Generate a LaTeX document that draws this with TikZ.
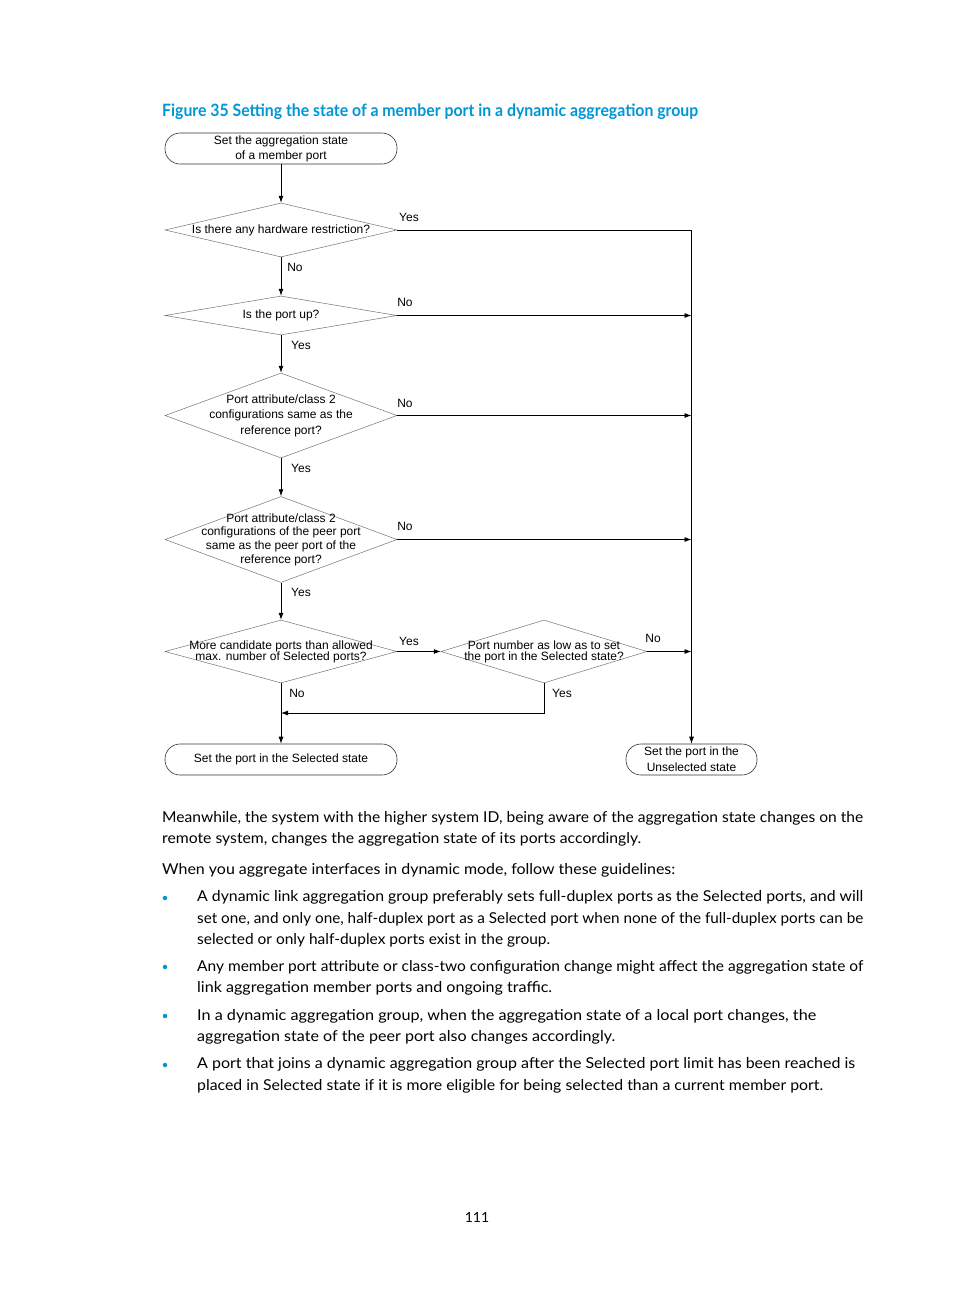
\documentclass[tikz,border=0pt]{standalone}
\usepackage{fontspec}
\usepackage{graphicx}
\setmainfont{Liberation Sans}
\newfontfamily\bodyfont{Lato}
\usetikzlibrary{shapes.geometric,arrows.meta,calc}
\definecolor{hpblue}{RGB}{0,150,214}
\newcommand{\fcf}[1]{\fontsize{12}{#1}\selectfont\setlength{\lineskiplimit}{-20pt}\setlength{\lineskip}{0pt}\relax}
\begin{document}
\begin{tikzpicture}[x=1pt,y=-1pt,
  fc/.style={font=\fcf{15}},
  term/.style={draw=black!80,line width=0.6pt,rounded corners=15pt,minimum height=31pt,inner sep=0pt,align=center,fc},
  dec/.style={draw=black!55,line width=0.5pt,diamond,inner sep=0pt,minimum width=232pt},
  dtext/.style n args={2}{label={[font=\fcf{#1},align=center,inner sep=0pt]center:{#2}}},
  conn/.style={draw=black,line width=0.8pt},
  arr/.style={conn,-{Latex[length=7pt,width=5pt]}},
  lab/.style={fc,inner sep=0pt},
  body/.style={anchor=base west,inner sep=0pt,font=\bodyfont\fontsize{15}{18}\selectfont},
  bul/.style={circle,fill=hpblue,inner sep=0pt,minimum size=4.5pt}
]
\useasboundingbox (0,0) rectangle (954,1296);
\fill[white] (0,0) rectangle (954,1296);

% title
\node[anchor=base west,inner sep=0pt,text=hpblue] (title) at (162,116)
  {\resizebox{536pt}{\height}{\bodyfont\bfseries\fontsize{17}{20}\selectfont Figure 35 Setting the state of a member port in a dynamic aggregation group}};

% flowchart nodes
\node[term,minimum width=232pt] (start) at (281,148.5) {Set the aggregation state\\of a member port};
\node[dec,minimum height=54pt,dtext={15}{Is there any hardware restriction?}] (d1) at (281,230) {};
\node[dec,minimum height=39pt,dtext={15}{Is the port up?}] (d2) at (281,315.5) {};
\node[dec,minimum height=85pt,dtext={15.5}{Port attribute/class 2\\configurations same as the\\reference port?}] (d3) at (281,415.5) {};
\node[dec,minimum height=86pt,dtext={13.7}{Port attribute/class 2\\configurations of the peer port\\same as the peer port of the\\reference port?}] (d4) at (281,539.5) {};
\node[dec,minimum height=63pt,dtext={11}{More candidate ports than allowed\\max. number of Selected ports?}] (d5) at (281,651.5) {};
\node[dec,minimum width=206pt,minimum height=63pt,dtext={11}{Port number as low as to set\\the port in the Selected state?}] (d6) at (544,651.5) {};
\node[term,minimum width=232pt] (sel) at (281,759.5) {Set the port in the Selected state};
\node[term,minimum width=131pt,font=\fcf{16}] (unsel) at (691.5,759.5) {Set the port in the\\Unselected state};
\coordinate (join) at (281,713);

% connectors
\draw[arr] (start.south) -- (d1.north);
\draw[arr] (d1.east) -- (d1.east -| unsel.north) -- (unsel.north);
\draw[arr] (d1.south) -- (d2.north);
\draw[arr] (d2.east) -- (d2.east -| unsel.north);
\draw[arr] (d2.south) -- (d3.north);
\draw[arr] (d3.east) -- (d3.east -| unsel.north);
\draw[arr] (d3.south) -- (d4.north);
\draw[arr] (d4.east) -- (d4.east -| unsel.north);
\draw[arr] (d4.south) -- (d5.north);
\draw[arr] (d5.east) -- (d6.west);
\draw[arr] (d6.east) -- (d6.east -| unsel.north);
\draw[arr] (d6.south) |- (join);
\draw[arr] (d5.south) -- (sel.north);

% labels
\node[lab] (l1) at (409,217) {Yes};
\node[lab] (l2) at (295,267) {No};
\node[lab] (l3) at (405,302) {No};
\node[lab] (l4) at (301,345) {Yes};
\node[lab] (l5) at (405,403) {No};
\node[lab] (l6) at (301,468) {Yes};
\node[lab] (l7) at (405,526) {No};
\node[lab] (l8) at (301,592) {Yes};
\node[lab] (l9) at (409,641) {Yes};
\node[lab] (l10) at (653,638) {No};
\node[lab] (l11) at (562,693) {Yes};
\node[lab] (l12) at (297,693) {No};

% body text
\node[body] (t1) at (162,822) {\resizebox{701pt}{\height}{Meanwhile, the system with the higher system ID, being aware of the aggregation state changes on the}};
\node[body] (t2) at (162,843) {\resizebox{479pt}{\height}{remote system, changes the aggregation state of its ports accordingly.}};
\node[body] (t3) at (162,874) {\resizebox{513pt}{\height}{When you aggregate interfaces in dynamic mode, follow these guidelines:}};

\node[bul] (b1) at (165,898) {};
\node[body] (t4) at (197,901) {\resizebox{666pt}{\height}{A dynamic link aggregation group preferably sets full-duplex ports as the Selected ports, and will}};
\node[body] (t5) at (197,923) {\resizebox{666pt}{\height}{set one, and only one, half-duplex port as a Selected port when none of the full-duplex ports can be}};
\node[body] (t6) at (197,944) {\resizebox{353pt}{\height}{selected or only half-duplex ports exist in the group.}};

\node[bul] (b2) at (165,967) {};
\node[body] (t7) at (197,971) {\resizebox{666pt}{\height}{Any member port attribute or class-two configuration change might affect the aggregation state of}};
\node[body] (t8) at (197,992) {\resizebox{355pt}{\height}{link aggregation member ports and ongoing traffic.}};

\node[bul] (b3) at (165,1016) {};
\node[body] (t9) at (197,1020) {\resizebox{619pt}{\height}{In a dynamic aggregation group, when the aggregation state of a local port changes, the}};
\node[body] (t10) at (197,1041) {\resizebox{418pt}{\height}{aggregation state of the peer port also changes accordingly.}};

\node[bul] (b4) at (165,1065) {};
\node[body] (t11) at (197,1068) {\resizebox{658pt}{\height}{A port that joins a dynamic aggregation group after the Selected port limit has been reached is}};
\node[body] (t12) at (197,1090) {\resizebox{626pt}{\height}{placed in Selected state if it is more eligible for being selected than a current member port.}};

\node[inner sep=0pt,font=\bodyfont\fontsize{14}{16}\selectfont] (pg) at (477,1217) {111};
\end{tikzpicture}
\end{document}
